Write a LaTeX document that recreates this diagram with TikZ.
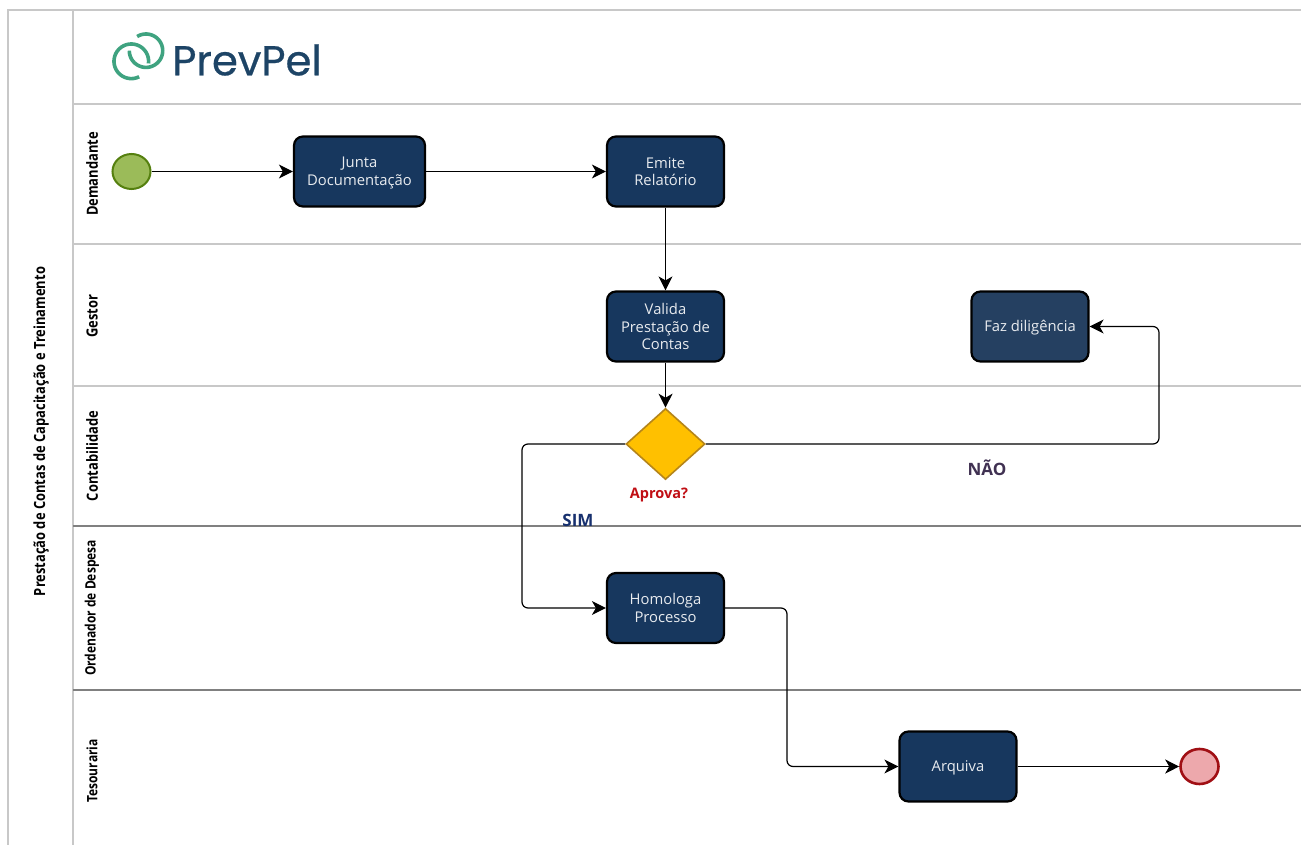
\documentclass[tikz,border=0pt]{standalone}
\usepackage{fontspec}
\setmainfont{Open Sans}
\newfontfamily\condfont[FakeStretch=0.84]{Open Sans}
\newfontfamily\logofont[FakeBold=0.6]{Poppins}
\usetikzlibrary{shapes.geometric,arrows.meta}
\definecolor{boxblue}{HTML}{17375E}
\definecolor{boxblueb}{HTML}{254061}
\definecolor{gridg}{HTML}{C8C8C8}
\definecolor{gridd}{HTML}{808080}
\definecolor{logog}{HTML}{3FA380}
\definecolor{logob}{HTML}{1D4466}
\definecolor{startf}{HTML}{9BBB59}
\definecolor{startd}{HTML}{55800F}
\definecolor{endf}{HTML}{EDA8AC}
\definecolor{endd}{HTML}{A00F14}
\definecolor{gwf}{HTML}{FFC000}
\definecolor{gwd}{HTML}{B5851A}
\definecolor{naoc}{HTML}{403152}
\definecolor{simc}{HTML}{17306E}
\definecolor{aprc}{HTML}{C00E14}
\newcommand{\lowtext}[1]{\strut\smash{\raisebox{-1.6pt}{#1}}}
\tikzset{
  x=1pt,y=-1pt,
  lane/.style={draw=gridg,line width=1.2pt},
  laned/.style={draw=gridd,line width=1.2pt},
  lanelabel/.style={rotate=90,font=\condfont\bfseries\fontsize{15.4}{17}\selectfont,text=black,inner sep=0pt},
  lanesmall/.style={lanelabel,font=\condfont\bfseries\fontsize{14.3}{16}\selectfont},
  task/.style={draw=black,line width=2.2pt,fill=boxblue,rounded corners=9pt,minimum width=#1,minimum height=70pt,inner sep=0pt,align=center,text=white!90!boxblue,font=\fontsize{14.8}{17.6}\selectfont},
  task/.default=117pt,
  flow/.style={draw=black,line width=1.2pt,rounded corners=6pt,-{Stealth[length=14pt,width=14pt,inset=4pt]}},
  lbl/.style={font=\bfseries\fontsize{14.5}{15}\selectfont,inner sep=0pt},
  biglbl/.style={lbl,font=\bfseries\fontsize{17}{17}\selectfont},
  logoarc/.style={draw=logog,line width=3.6pt,smooth},
  eventnode/.style={ellipse,minimum width=38pt,minimum height=35pt,inner sep=0pt},
}
\begin{document}
\begin{tikzpicture}
\useasboundingbox (0,0) rectangle (1301,845);
\fill[white] (0,0) rectangle (1301,845);
% frame
\draw[lane] (1301,10) -- (8,10) -- (8,845);
\draw[lane] (73,10) -- (73,845);
\draw[lane] (73,104) -- (1301,104);
\draw[lane] (73,244) -- (1301,244);
\draw[lane] (73,386) -- (1301,386);
\draw[laned] (73,526) -- (1301,526);
\draw[laned] (73,690) -- (1301,690);
% logo
\draw[logoarc] plot[domain=-63:-367,samples=60] ({131.3+17.3*cos(\x)},{61.3-17.3*sin(\x)});
\draw[logoarc] plot[domain=122:-180,samples=60] ({146+16.7*cos(\x)},{50.7-16.7*sin(\x)});
\node[inner sep=0pt,anchor=west,text=logob,font=\logofont\fontsize{41.8}{42}\selectfont] (logo) at (172,60) {PrevPel};
% lane labels
\node[lanelabel] (lt) at (41,431.5) {Prestação de Contas de Capacitação e Treinamento};
\node[lanelabel] (l1) at (92,174) {Demandante};
\node[lanelabel] (l2) at (92,316) {Gestor};
\node[lanelabel] (l3) at (92,456) {Contabilidade};
\node[lanesmall] (l4) at (92,608) {Ordenador de Despesa};
\node[lanesmall] (l5) at (92,771) {Tesouraria};
% nodes
\node[eventnode,draw=startd,line width=2pt,fill=startf] (start) at (131.5,171.5) {};
\node[task=131pt] (junta) at (359.5,171.5) {\lowtext{Junta}\\\lowtext{Documentação}};
\node[task] (emite) at (665.5,171.5) {Emite\\Relatório};
\node[task] (valida) at (665.5,326.5) {Valida\\Prestação de\\Contas};
\node[task,fill=boxblueb] (faz) at (1030,326.5) {\lowtext{Faz diligência}};
\node[diamond,draw=gwd,line width=1.6pt,fill=gwf,minimum width=79pt,minimum height=71pt,inner sep=0pt] (gw) at (665.5,444) {};
\node[task] (homo) at (665.5,608) {Homologa\\Processo};
\node[task] (arq) at (958,766.5) {\lowtext{Arquiva}};
\node[eventnode,draw=endd,line width=2.6pt,fill=endf] (end) at (1199.5,766.5) {};
% labels
\node[lbl,text=aprc] (aprova) at (659,494.5) {Aprova?};
\node[biglbl,text=simc] (sim) at (578,520) {SIM};
\node[biglbl,text=naoc] (nao) at (987,467.5) {NÃO};
% connectors
\draw[flow] (start) -- (junta);
\draw[flow] (junta) -- (emite);
\draw[flow] (emite) -- (valida);
\draw[flow] (valida) -- (gw);
\draw[flow] (gw.west) -- (522,444) -- (522,608) -- (homo.west);
\draw[flow] (gw.east) -- (1159,444) -- (1159,326.5) -- (faz.east);
\draw[flow] (homo.east) -- (787,608) -- (787,766.5) -- (arq.west);
\draw[flow] (arq) -- (end);
\end{tikzpicture}
\end{document}
